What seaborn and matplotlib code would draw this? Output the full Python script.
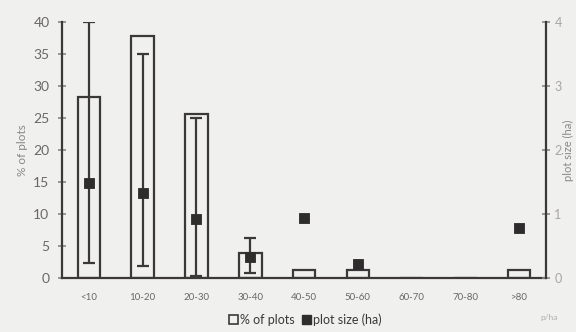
import numpy as np
import pandas as pd
import matplotlib.pyplot as plt
import seaborn as sns
from matplotlib.patches import Patch

cats = ['<10', '10-20', '20-30', '30-40', '40-50', '50-60', '60-70', '70-80', '>80']
pct_plots = [28.3, 37.8, 25.6, 3.9, 1.3, 1.3, 0, 0, 1.3]
plot_size = [1.48, 1.33, 0.92, 0.33, 0.94, 0.22, np.nan, np.nan, 0.78]
err_low = [0.23, 0.19, 0.03, 0.08, np.nan, np.nan, np.nan, np.nan, np.nan]
err_high = [4.0, 3.5, 2.5, 0.62, np.nan, np.nan, np.nan, np.nan, np.nan]

dark = '#3a3838'
grey = '#8a8886'
bg = '#f0f0ee'

sns.set_style('white')
plt.rcParams['font.family'] = ['Lato', 'DejaVu Sans']

df = pd.DataFrame({'cat': cats, 'pct': pct_plots, 'size': plot_size})

fig = plt.figure(figsize=(5.76, 3.32), dpi=100, facecolor=bg)
ax = fig.add_axes([0.1076, 0.1627, 0.8404, 0.771])
ax.set_facecolor(bg)

sns.barplot(data=df, x='cat', y='pct', fill=False, edgecolor=dark, linewidth=1.6,
            width=0.42, ax=ax)
ax.set_ylim(0, 40)
ax.set_xlim(-0.5, 8.5)
ax.set_yticks(range(0, 41, 5))
ax.set_ylabel('% of plots', color=grey, fontsize=8.5)
ax.set_xlabel('')
ax.tick_params(axis='y', direction='inout', length=6, width=1.2, color=grey,
               labelcolor='#6a6866', labelsize=10, pad=6)
ax.tick_params(axis='x', length=0, labelsize=7, labelcolor='#6a6866', pad=11)
ax.set_xticks(np.arange(0.5, 8, 1), minor=True)
ax.tick_params(axis='x', which='minor', direction='inout', length=3, width=1, color='#b8b6b4')
for s in ['top', 'right']:
    ax.spines[s].set_visible(False)
for s in ['left', 'bottom']:
    ax.spines[s].set_color(dark)
    ax.spines[s].set_linewidth(1.6)

ax2 = ax.twinx()
xs = np.arange(len(cats))
low = np.array(plot_size) - np.array(err_low)
high = np.array(err_high) - np.array(plot_size)
ax2.errorbar(xs, plot_size, yerr=[low, high], fmt='none', ecolor=dark,
             elinewidth=1.6, capsize=4, capthick=1.6)
sns.scatterplot(x=xs, y=plot_size, marker='s', s=60, color='#2e2c2c',
                edgecolor='#2e2c2c', ax=ax2, zorder=5)
ax2.set_ylim(0, 4)
ax2.set_yticks(range(0, 5))
ax2.set_ylabel('plot size (ha)', color=grey, fontsize=8, rotation=90, labelpad=1)
ax2.tick_params(axis='y', direction='inout', length=6, width=1.2, color=grey,
                labelcolor='#a8a6a4', labelsize=9, pad=3)
for s in ['top', 'left', 'bottom']:
    ax2.spines[s].set_visible(False)
ax2.spines['right'].set_color(dark)
ax2.spines['right'].set_linewidth(1.6)

handles = [Patch(facecolor='none', edgecolor=dark, linewidth=1.2, label='% of plots'),
           Patch(facecolor='#2e2c2c', edgecolor='#2e2c2c', label='plot size (ha)')]
fig.legend(handles=handles, loc='lower center', bbox_to_anchor=(0.53, -0.015), ncol=2,
           frameon=False, fontsize=9, handlelength=0.7, handleheight=0.7,
           handletextpad=0.15, columnspacing=0.6, labelcolor='#3a3838')
fig.text(0.938, 0.035, 'p/ha', fontsize=6, color='#b0aeac')

fig.savefig('out.png', dpi=100, facecolor=bg)
